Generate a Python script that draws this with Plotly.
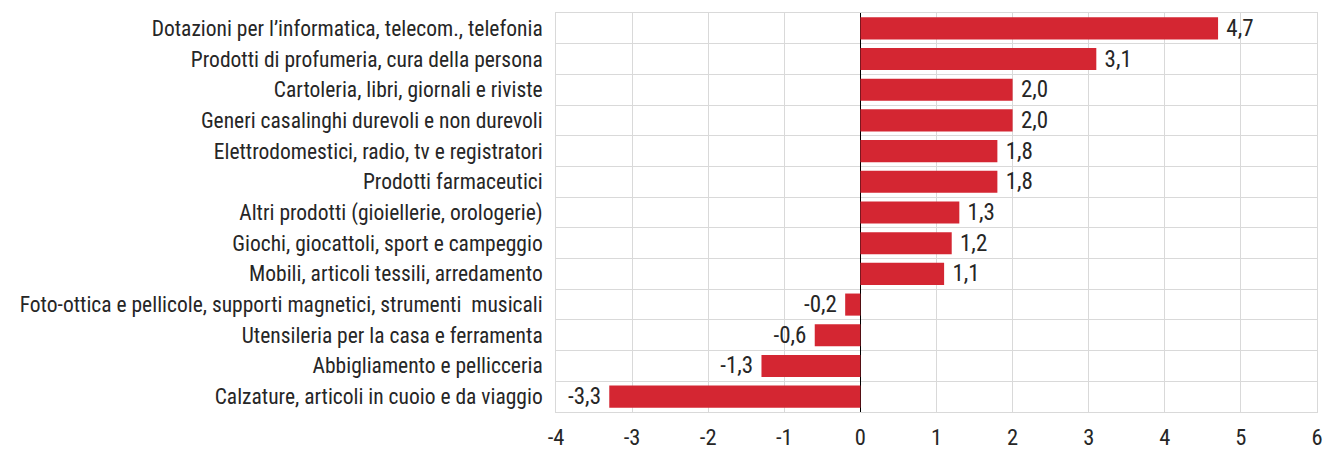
import plotly.graph_objects as go

categories = [
    "Dotazioni per l’informatica, telecom., telefonia",
    "Prodotti di profumeria, cura della persona",
    "Cartoleria, libri, giornali e riviste",
    "Generi casalinghi durevoli e non durevoli",
    "Elettrodomestici, radio, tv e registratori",
    "Prodotti farmaceutici",
    "Altri prodotti (gioiellerie, orologerie)",
    "Giochi, giocattoli, sport e campeggio",
    "Mobili, articoli tessili, arredamento",
    "Foto-ottica e pellicole, supporti magnetici, strumenti  musicali",
    "Utensileria per la casa e ferramenta",
    "Abbigliamento e pellicceria",
    "Calzature, articoli in cuoio e da viaggio",
]
values = [4.7, 3.1, 2.0, 2.0, 1.8, 1.8, 1.3, 1.2, 1.1, -0.2, -0.6, -1.3, -3.3]
x_ticks = [-4, -3, -2, -1, 0, 1, 2, 3, 4, 5, 6]

FONT = "Roboto Condensed, Roboto, sans-serif"
TXT = "#262626"

labels = []
for v in values:
    s = f"{v:.1f}".replace(".", ",")
    labels.append("\u00a0" + s if v >= 0 else s + "\u00a0")

fig = go.Figure(go.Bar(
    x=values,
    y=categories,
    orientation="h",
    marker=dict(color="#D42632", line=dict(width=0)),
    text=labels,
    texttemplate="%{text}",
    textposition="outside",
    constraintext="none",
    textfont=dict(family=FONT, size=23, color=TXT),
    cliponaxis=False,
))

fig.update_layout(
    width=1326, height=450,
    margin=dict(l=556, r=9, t=13, b=38),
    plot_bgcolor="white", paper_bgcolor="white",
    bargap=0.28,
    showlegend=False,
    font=dict(family=FONT, size=21.5, color=TXT),
)
fig.update_xaxes(
    range=[-4, 6], tickvals=x_ticks, ticktext=[str(t) for t in x_ticks],
    showgrid=True, gridcolor="#D9D9D9", gridwidth=1,
    zeroline=True, zerolinecolor="#000000", zerolinewidth=1,
    showline=True, linecolor="#D9D9D9", mirror=True,
    ticks="", tickfont=dict(family=FONT, size=22.5, color=TXT),
    ticklabelstandoff=5, automargin=False,
)
fig.update_yaxes(
    autorange="reversed", type="category",
    tickson="boundaries", showgrid=True, gridcolor="#D9D9D9", gridwidth=1,
    showline=True, linecolor="#D9D9D9", mirror=True,
    ticks="", ticklabelstandoff=8, automargin=False,
    tickfont=dict(family=FONT, size=21.5, color=TXT),
)

fig.write_html(
    "out.html",
    config={"displayModeBar": False},
    post_script="document.body.style.margin='0';document.body.style.overflow='hidden';",
)
